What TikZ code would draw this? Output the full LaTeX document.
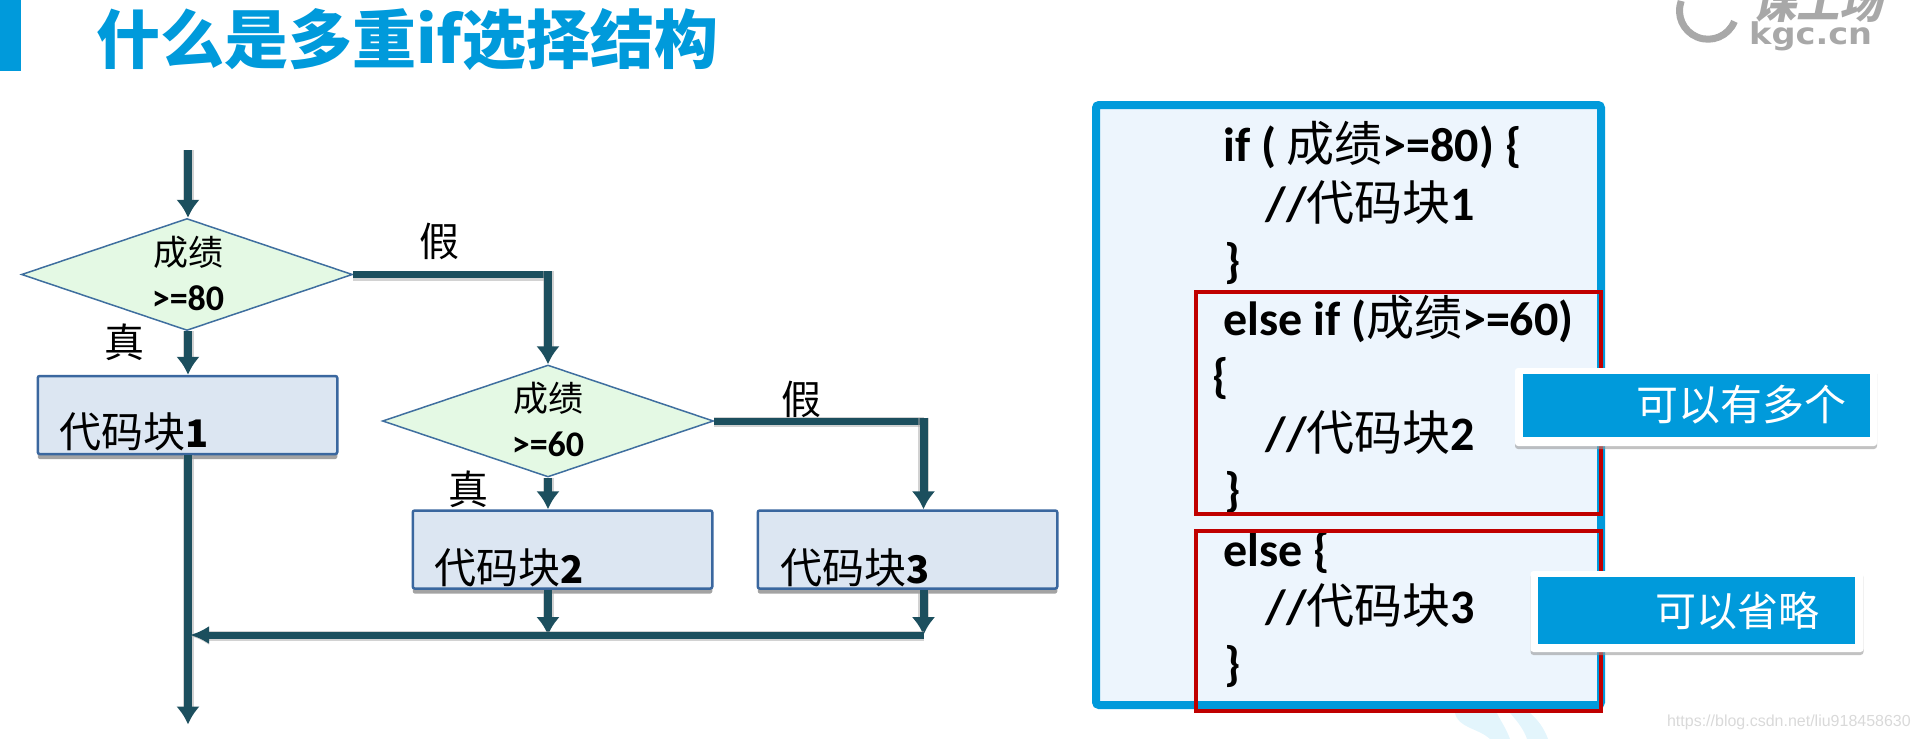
\documentclass[tikz,border=0pt]{standalone}
\usepackage{fontspec}
\setmainfont{Carlito}
\newfontfamily\cjk{Noto Sans CJK SC}
\newfontfamily\logocjk[FakeSlant=0.2]{Noto Sans CJK SC}
\newfontfamily\logolatin[FakeStretch=1.12]{DejaVu Sans}
\usepackage{tikz}
\usetikzlibrary{shapes.geometric, arrows.meta, shadows}
\definecolor{titleblue}{HTML}{009ADB}
\definecolor{flowline}{HTML}{1C4F5E}
\definecolor{condfill}{HTML}{E4F9E4}
\definecolor{condedge}{HTML}{3F6F9F}
\definecolor{blockfill}{HTML}{DCE6F2}
\definecolor{blockedge}{HTML}{3A679F}
\definecolor{codefill}{HTML}{EDF5FD}
\definecolor{markred}{HTML}{C00000}
\definecolor{logogray}{HTML}{A8A8A8}
\definecolor{swoosh}{HTML}{E3F5FC}
\newcommand{\fs}[1]{\fontsize{#1}{#1}\selectfont}
\tikzstyle{condition} =
[diamond, aspect = 2.93, inner sep = 0pt, minimum width = 331pt, minimum height = 112pt,
draw=condedge, line width = 1.5pt, fill=condfill]
\tikzstyle{block} =
[rectangle, rounded corners = 2pt, minimum width = 299.5pt, minimum height = 78pt,
draw=blockedge, line width = 2.5pt, fill=blockfill,
drop shadow = {shadow xshift = 0pt, shadow yshift = -5pt, fill = black!45, opacity = 0.8}]
\tikzstyle{flowtext} = [inner sep = 0pt, anchor = center, font = \cjk\fs{35}]
\tikzstyle{bigtext} = [flowtext, font = \cjk\fs{40}]
\tikzstyle{blocktext} = [inner sep = 0pt, anchor = west, font = \cjk\fs{42}]
\tikzstyle{boldnum} = [inner sep = 0pt, anchor = center, font = \bfseries\fs{36}]
\tikzstyle{codeline} = [inner sep = 0pt, anchor = base west, font = \bfseries\fs{48}]
\tikzstyle{tagouter} = [rectangle, rounded corners = 3pt, fill = white,
drop shadow = {shadow xshift = 0pt, shadow yshift = -3pt, fill = black!40, opacity = 0.6}]
\tikzstyle{tagbox} = [rectangle, fill = titleblue, inner sep = 0pt]
\tikzstyle{tagtext} = [inner sep = 0pt, text = white, font = \cjk\fs{42}]
\tikzstyle{line} = [draw=flowline, line width = 8pt, -{Latex[length=18pt,width=24pt]},
preaction = {draw=black!35, line width = 11pt, -, shorten >= 14pt, opacity = 0.5}]
\tikzstyle{hline} = [draw=flowline, line width = 7pt,
preaction = {draw=black!35, line width = 10pt, opacity = 0.5, transform canvas = {yshift = -1pt}}]
\tikzstyle{harrow} = [hline, -{Latex[length=19pt,width=18pt]}]
\begin{document}
\begin{tikzpicture}[x = 1pt, y = -1pt]
  \useasboundingbox (0,0) rectangle (1920,739);
  % title
  \node [rectangle, fill=titleblue, minimum width = 21pt, minimum height = 71pt,
    inner sep = 0pt, anchor = north west] (titlebar) at (0,0) {};
  \node [inner sep = 0pt, anchor = west, text = titleblue, font = \cjk\bfseries\fs{64}]
    (title) at (96,40) {什么是多重if选择结构};
  % logo
  \draw [logogray, line width = 7pt] (1734.4,21.4)
    arc [start angle = -22, end angle = -200, radius = 28.5pt];
  \node [inner sep = 0pt, anchor = west, text = logogray, font = \logocjk\bfseries\fs{43}]
    (logoname) at (1753,2.5) {课工场};
  \node [inner sep = 0pt, anchor = base west, text = logogray, font = \logolatin\bfseries\fs{30}]
    (logourl) at (1749,44) {kgc.cn};
  % swoosh
  \fill [swoosh] (1455,713) .. controls (1458,728) and (1478,728) .. (1490,739)
    -- (1510,739) .. controls (1506,728) and (1500,720) .. (1497,713) -- cycle;
  \fill [swoosh] (1510,713) .. controls (1518,722) and (1524,730) .. (1527,739)
    -- (1548,739) .. controls (1544,728) and (1538,720) .. (1530,713) -- cycle;
  \node [inner sep = 0pt, anchor = east, text = black!15, font = \fontspec{Liberation Sans}\fs{16}]
    (watermark) at (1911,722) {https://blog.csdn.net/liu918458630};
  %
  % flow nodes
  \coordinate (start) at (188,150);
  \node [condition] (cond1) at (187,274.5) {};
  \node [block] (block1) at (187.5,415) {};
  \node [condition] (cond2) at (548,421) {};
  \node [block] (block2) at (562.5,549.5) {};
  \node [block] (block3) at (907.5,549.5) {};
  \coordinate (merge1) at (190,635);
  \coordinate (finish) at (188,724.5);
  \coordinate (merge2) at (548,635);
  \coordinate (merge3) at (923.5,635);
  \coordinate (turn1) at (548,271);
  \coordinate (turn2) at (923.5,417.5);
  % flow edges
  \path [line] (start) -- (start |- cond1.north);
  \path [line] (start |- cond1.south) -- (start |- block1.north);
  \path [hline] (cond1.east) -- (cond1.east -| turn1);
  \path [line] (turn1) -- (turn1 |- cond2.north);
  \path [line] (cond2.south) -- (block2.north -| cond2.south);
  \path [hline] (cond2.east) -- (cond2.east -| turn2);
  \path [line] (turn2) -- (turn2 |- block3.north);
  \path [line] (block1.south -| finish) -- (finish);
  \path [line] (block2.south -| merge2) -- (merge2);
  \path [line] (block3.south -| merge3) -- (merge3);
  \path [harrow] (merge3) -- (merge1);
  % flow labels
  \node [flowtext] (score1) at (188,252) {成绩};
  \node [boldnum] (limit1) at (188,298) {>=80};
  \node [flowtext] (score2) at (548,398) {成绩};
  \node [boldnum] (limit2) at (548,444) {>=60};
  \node [bigtext] (yes1) at (124,342.5) {真};
  \node [bigtext] (no1) at (439.5,241.5) {假};
  \node [bigtext] (yes2) at (468.5,489) {真};
  \node [bigtext] (no2) at (801,399.5) {假};
  \node [blocktext] (text1) at (59.5,432) {代码块\bfseries\fs{38}1};
  \node [blocktext] (text2) at (434,568) {代码块\bfseries\fs{38}2};
  \node [blocktext] (text3) at (780,568) {代码块\bfseries\fs{38}3};
  %
  % code panel
  \node [rectangle, rounded corners = 3pt, draw=titleblue, line width = 8pt, fill=codefill,
    minimum width = 505pt, minimum height = 600pt, inner sep = 0pt] (panel) at (1348.5,405) {};
  \node [codeline] (line1) at (1223,161) {if ( {\cjk\mdseries 成绩}>=80) \{};
  \node [codeline] (line2) at (1265.5,220) {//{\cjk\mdseries 代码块}1};
  \node [codeline] (line3) at (1224.5,277) {\}};
  \node [codeline] (line4) at (1223,335) {else if ({\cjk\mdseries 成绩}>=60)};
  \node [codeline] (line5) at (1212.5,392) {\{};
  \node [codeline] (line6) at (1265.5,450) {//{\cjk\mdseries 代码块}2};
  \node [codeline] (line7) at (1224.5,506) {\}};
  \node [codeline] (line8) at (1223,566) {else \{};
  \node [codeline] (line9) at (1265.5,623) {//{\cjk\mdseries 代码块}3};
  \node [codeline] (line10) at (1224.5,680) {\}};
  % red marks
  \node [rectangle, draw=markred, line width = 4pt, minimum width = 404.6pt, minimum height = 222pt,
    inner sep = 0pt] (mark1) at (1398.7,403.2) {};
  \node [rectangle, draw=markred, line width = 4pt, minimum width = 404.6pt, minimum height = 180pt,
    inner sep = 0pt] (mark2) at (1398.7,621) {};
  % tags
  \node [tagouter, minimum width = 362pt, minimum height = 78pt, inner sep = 0pt] (tagback1) at (1696,407) {};
  \node [tagbox, minimum width = 347pt, minimum height = 62.5pt] (tag1) at (1696.5,405.7) {};
  \node [tagtext] (tagtext1) at (1741.5,405) {可以有多个};
  \node [tagouter, minimum width = 333pt, minimum height = 81pt, inner sep = 0pt] (tagback2) at (1697,611.5) {};
  \node [tagbox, minimum width = 317pt, minimum height = 67pt] (tag2) at (1696.5,610.5) {};
  \node [tagtext, font = \cjk\fs{41}] (tagtext2) at (1737.5,611) {可以省略};
\end{tikzpicture}
\end{document}
